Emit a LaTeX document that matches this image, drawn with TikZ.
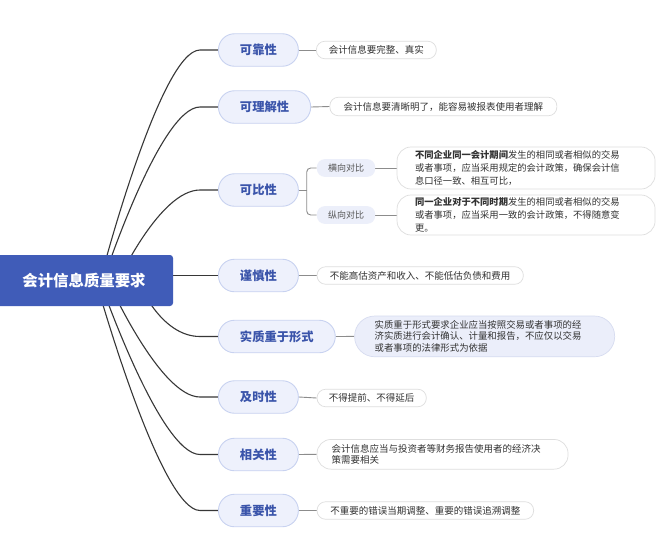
\documentclass[tikz,border=0pt]{standalone}
\usepackage{fontspec}
\setmainfont{Noto Sans CJK SC}
\usetikzlibrary{calc}
\pgfdeclarelayer{bg}
\pgfsetlayers{bg,main}
\definecolor{rootblue}{RGB}{64,92,184}
\definecolor{lvfill}{RGB}{238,241,252}
\definecolor{lvborder}{RGB}{200,210,240}
\definecolor{lvtext}{RGB}{58,84,170}
\definecolor{dborder}{RGB}{222,222,222}
\definecolor{dtext}{RGB}{50,50,50}
\definecolor{subfill}{RGB}{236,239,250}
\definecolor{subtext}{RGB}{85,85,85}
\definecolor{hlfill}{RGB}{235,238,250}
\definecolor{hlborder}{RGB}{215,220,240}
\definecolor{mainln}{RGB}{55,55,55}
\definecolor{subln}{RGB}{140,140,140}
\newcommand\mainbranch[2]{\draw[mainline] (#1) .. controls (#1) and ($(#2.west)+(-58,0)$) .. ($(#2.west)+(-18,0)$) -- (#2.west);}
\begin{document}
\begin{tikzpicture}[x=1pt,y=-1pt,
  rootbox/.style={fill=rootblue, rounded corners=3pt, text=white, inner sep=0pt,
    font=\fontsize{15.4}{18}\selectfont\bfseries},
  lvone/.style={draw=lvborder, fill=lvfill, line width=0.9pt, rounded corners=16pt,
    minimum height=32.5pt, inner xsep=21.5pt, inner ysep=0pt, text=lvtext,
    font=\fontsize{12.3}{14}\selectfont\bfseries, anchor=west},
  detail/.style={draw=dborder, fill=white, line width=0.7pt, rounded corners=8.5pt,
    minimum height=17.5pt, inner xsep=0pt, inner ysep=0pt, text=dtext,
    font=\fontsize{9.5}{11.5}\selectfont, anchor=west},
  multi/.style={detail, rounded corners=14pt, align=left},
  subbox/.style={fill=subfill, rounded corners=8pt, minimum height=17.7pt,
    minimum width=58.3pt, inner sep=0pt, text=subtext,
    font=\fontsize{9}{11}\selectfont, anchor=west},
  mainline/.style={draw=mainln, line width=1.1pt},
  subline/.style={draw=subln, line width=0.9pt}
]
\useasboundingbox (0,0) rectangle (665,539);

% root
\node[rootbox, minimum width=178pt, minimum height=51pt] (root) at (84,280.5) {会计信息质量要求};

% level one
\node[lvone] (n1) at (218,50) {可靠性};
\node[lvone] (n2) at (218,107) {可理解性};
\node[lvone] (n3) at (218,190) {可比性};
\node[lvone] (n4) at (218,275.5) {谨慎性};
\node[lvone] (n5) at (218,336.5) {实质重于形式};
\node[lvone] (n6) at (218,397) {及时性};
\node[lvone] (n7) at (218,454.5) {相关性};
\node[lvone] (n8) at (218,510.5) {重要性};

% details
\node[detail, minimum width=120pt] (d1) at (316,50) {会计信息要完整、真实};
\node[detail, minimum width=227pt, minimum height=18.5pt] (d2) at (329.5,106.5) {会计信息要清晰明了，能容易被报表使用者理解};
\node[subbox] (c1) at (316.7,168) {横向对比};
\node[subbox] (c2) at (316.7,215) {纵向对比};
\node[multi, minimum width=258pt, minimum height=42pt, text width=222pt, inner xsep=18pt,
  font=\fontsize{9.3}{12.8}\selectfont] (cd1) at (396.7,168)
  {{\bfseries 不同企业同一会计期间}发生的相同或者相似的交易\\或者事项，应当采用规定的会计政策，确保会计信\\息口径一致、相互可比，};
\node[multi, minimum width=258pt, minimum height=40pt, text width=222pt, inner xsep=18pt,
  font=\fontsize{9.3}{12.8}\selectfont] (cd2) at (396.7,215)
  {{\bfseries 同一企业对于不同时期}发生的相同或者相似的交易\\或者事项，应当采用一致的会计政策，不得随意变\\更。};
\node[detail, minimum width=206.3pt] (d4) at (316.7,275.5) {不能高估资产和收入、不能低估负债和费用};
\node[multi, draw=hlborder, fill=hlfill, rounded corners=20pt, minimum width=260pt,
  minimum height=40.7pt, text width=220pt, inner xsep=20pt,
  font=\fontsize{9.4}{11.4}\selectfont] (d5) at (354.3,336.4)
  {实质重于形式要求企业应当按照交易或者事项的经\\济实质进行会计确认、计量和报告，不应仅以交易\\或者事项的法律形式为依据};
\node[detail, minimum width=109.3pt] (d6) at (316.7,398) {不得提前、不得延后};
\node[multi, minimum width=251pt, minimum height=29.7pt, text width=222pt, inner xsep=14.5pt,
  font=\fontsize{9.5}{11}\selectfont] (d7) at (316.7,454.3)
  {会计信息应当与投资者等财务报告使用者的经济决\\策需要相关};
\node[detail, minimum width=216.6pt] (d8) at (316.7,510.5) {不重要的错误当期调整、重要的错误追溯调整};

\coordinate (s1) at (100,281);
\coordinate (s2) at (103,281);
\coordinate (s3) at (118,281);
\coordinate (s4) at (150,275.5);
\coordinate (s5) at (138,281);
\coordinate (s6) at (108,281);
\coordinate (s7) at (100,281);
\coordinate (s8) at (96,281);
\coordinate (kbj) at (306.7,190);

\begin{pgfonlayer}{bg}
\fill[white] (0,0) rectangle (665,539);
\mainbranch{s1}{n1}
\mainbranch{s2}{n2}
\mainbranch{s3}{n3}
\draw[mainline] (s4) -- (n4.west);
\mainbranch{s5}{n5}
\mainbranch{s6}{n6}
\mainbranch{s7}{n7}
\mainbranch{s8}{n8}
\draw[subline] (n1.east) -- (d1.west);
\draw[subline] (n2.east) -- (d2.west);
\draw[subline] (n3.east) -- (kbj);
\draw[subline, rounded corners=4pt] (c1.west) -| (kbj) |- (c2.west);
\draw[subline] (c1.east) -- (cd1.west);
\draw[subline] (c2.east) -- (cd2.west);
\draw[subline] (n4.east) -- (d4.west);
\draw[subline] (n5.east) -- (d5.west);
\draw[subline] (n6.east) -- (d6.west);
\draw[subline] (n7.east) -- (d7.west);
\draw[subline] (n8.east) -- (d8.west);
\end{pgfonlayer}
\end{tikzpicture}
\end{document}
